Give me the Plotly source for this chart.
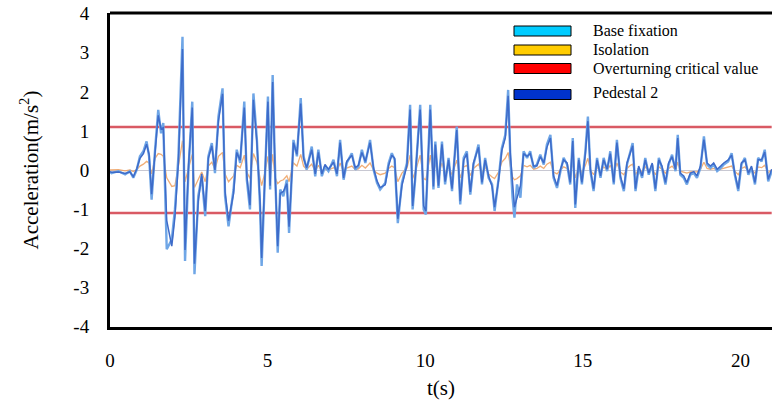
import plotly.graph_objects as go

# ---------------- data ----------------
time_s = [0.00, 0.05, 0.27, 0.48, 0.63, 0.74, 0.85, 0.95, 1.06, 1.16, 1.24, 1.32, 1.43, 1.53, 1.62, 1.69,
          1.80, 1.96, 2.06, 2.17, 2.30, 2.38, 2.49, 2.61, 2.68, 2.80, 2.91, 3.02, 3.12, 3.23, 3.33, 3.44,
          3.57, 3.65, 3.76, 3.92, 4.02, 4.13, 4.26, 4.34, 4.44, 4.55, 4.66, 4.76, 4.81, 4.92, 5.01, 5.08,
          5.16, 5.24, 5.32, 5.40, 5.50, 5.61, 5.68, 5.82, 5.93, 6.05, 6.14, 6.24, 6.40, 6.51, 6.61, 6.72,
          6.82, 6.93, 7.09, 7.20, 7.30, 7.41, 7.51, 7.67, 7.78, 7.88, 7.99, 8.10, 8.25, 8.36, 8.47, 8.57,
          8.73, 8.84, 8.94, 9.03, 9.13, 9.26, 9.42, 9.52, 9.60, 9.68, 9.84, 9.95, 10.02, 10.16, 10.26,
          10.32, 10.42, 10.53, 10.63, 10.74, 10.85, 11.00, 11.11, 11.22, 11.32, 11.43, 11.53, 11.69, 11.80,
          11.90, 12.01, 12.12, 12.20, 12.33, 12.43, 12.54, 12.63, 12.70, 12.77, 12.83, 12.91, 13.02, 13.12,
          13.23, 13.33, 13.44, 13.54, 13.65, 13.76, 13.86, 13.97, 14.07, 14.18, 14.29, 14.39, 14.50, 14.60,
          14.68, 14.76, 14.87, 14.97, 15.08, 15.16, 15.24, 15.34, 15.45, 15.56, 15.66, 15.77, 15.87, 15.98,
          16.08, 16.19, 16.30, 16.40, 16.51, 16.58, 16.67, 16.77, 16.88, 16.98, 17.09, 17.20, 17.30, 17.41,
          17.51, 17.62, 17.72, 17.83, 17.94, 18.01, 18.09, 18.20, 18.30, 18.41, 18.52, 18.62, 18.73, 18.84,
          18.94, 19.05, 19.15, 19.26, 19.37, 19.47, 19.61, 19.72, 19.82, 19.93, 20.03, 20.14, 20.25, 20.35,
          20.46, 20.56, 20.67, 20.77, 20.88, 20.99]

base_fixation = [-0.05, -0.08, -0.03, -0.11, -0.03, -0.20, 0.01, 0.35, 0.48, 0.73, 0.35, -0.76, 0.52, 1.54, 0.94, 1.20,
                 -2.03, -1.78, -1.01, 0.35, 3.41, -2.33, 0.01, 1.75, -2.67, -0.67, -0.16, -1.18, 0.35, 0.69, -0.08, 1.37,
                 2.09, -0.67, -1.44, -0.50, 0.52, 0.18, 1.75, -0.25, -1.01, 1.96, 0.77, -0.93, -2.46, -0.08, 1.88, -0.50,
                 2.43, -0.08, -2.12, -0.50, -0.67, -0.25, -1.61, 0.77, 0.35, 1.84, 0.35, 0.01, 0.60, -0.16, 0.52, -0.16,
                 0.09, -0.03, 0.26, -0.16, 0.77, -0.25, 0.18, 0.43, 0.01, 0.09, 0.52, 0.18, 0.77, 0.01, -0.33, -0.50,
                 -0.33, 0.18, 0.43, 0.26, -1.36, -0.33, 0.18, 1.67, -1.01, -0.25, 1.67, -1.01, -1.14, 1.67, -0.50,
                 0.73, -0.46, 0.73, -0.37, 0.31, -0.54, 1.11, -0.88, 0.31, 0.48, -0.63, 0.14, 0.65, -0.37,
                 0.31, -0.20, -0.37, -1.05, -0.20, 0.56, 0.90, 2.05, 0.31, -0.71, -1.22, -0.37, -0.71, 0.48,
                 0.31, 0.48, 0.05, 0.14, 0.39, 0.14, 0.65, 0.90, -0.20, -0.46, -0.03, 0.31, 0.14, -0.37,
                 0.82, -0.97, 0.31, -0.37, 0.48, 1.37, -0.03, -0.54, 0.31, -0.20, 0.31, -0.03, 0.48, -0.37,
                 0.77, -0.20, -0.54, 0.14, 0.48, 0.69, -0.54, 0.05, -0.20, 0.31, -0.12, 0.14, -0.54, 0.31,
                 0.05, -0.37, 0.14, 0.39, -0.03, 0.90, -0.12, -0.20, -0.37, -0.12, -0.08, -0.20, 0.05, 0.86,
                 0.14, 0.05, 0.14, -0.03, 0.05, 0.14, 0.22, 0.43, -0.12, -0.54, 0.14, 0.31, -0.12, 0.05,
                 -0.37, 0.31, 0.22, 0.52, -0.29, -0.03]

pedestal_2 = [-0.04, -0.06, -0.05, -0.09, -0.05, -0.17, 0.03, 0.30, 0.42, 0.66, 0.40, -0.62, 0.45, 1.40, 1.05, 1.08,
              -1.30, -1.95, -1.20, 0.20, 3.10, -2.05, 0.10, 1.60, -2.40, -0.80, -0.10, -1.05, 0.30, 0.62, 0.00, 1.25,
              1.95, -0.55, -1.30, -0.60, 0.45, 0.25, 1.60, -0.15, -0.90, 1.80, 0.70, -0.80, -2.25, 0.00, 1.75, -0.40,
              2.25, -0.15, -1.95, -0.60, -0.55, -0.35, -1.45, 0.70, 0.40, 1.70, 0.30, 0.06, 0.52, -0.10, 0.45, -0.10,
              0.14, 0.02, 0.20, -0.10, 0.70, -0.20, 0.22, 0.38, 0.06, 0.12, 0.45, 0.22, 0.70, 0.05, -0.28, -0.45,
              -0.38, 0.12, 0.38, 0.30, -1.25, -0.40, 0.12, 1.55, -0.92, -0.20, 1.55, -0.92, -1.05, 1.55, -0.42,
              0.65, -0.40, 0.66, -0.30, 0.26, -0.48, 1.02, -0.80, 0.26, 0.42, -0.56, 0.18, 0.58, -0.32,
              0.26, -0.15, -0.42, -0.95, -0.25, 0.50, 0.82, 1.90, 0.40, -0.45, -0.95, -0.72, -0.40, 0.42,
              0.35, 0.42, 0.10, 0.10, 0.34, 0.18, 0.58, 0.82, -0.15, -0.40, 0.02, 0.26, 0.18, -0.32,
              0.74, -0.88, 0.26, -0.32, 0.42, 1.25, 0.02, -0.48, 0.26, -0.15, 0.26, 0.02, 0.42, -0.32,
              0.70, -0.15, -0.48, 0.18, 0.42, 0.62, -0.48, 0.10, -0.15, 0.26, -0.08, 0.18, -0.48, 0.26,
              0.10, -0.32, 0.18, 0.34, 0.02, 0.82, -0.08, -0.15, -0.32, -0.08, -0.04, -0.15, 0.10, 0.78,
              0.18, 0.10, 0.18, 0.02, 0.10, 0.18, 0.26, 0.38, -0.08, -0.48, 0.18, 0.26, -0.08, 0.10,
              -0.32, 0.26, 0.26, 0.46, -0.24, 0.02]

isolation = [0.00, 0.00, 0.01, -0.02, 0.00, -0.04, 0.01, 0.10, 0.15, 0.22, 0.18, -0.10, 0.30, 0.42, 0.40, 0.35,
             -0.20, -0.42, -0.40, 0.10, 0.75, -0.30, 0.05, 0.40, -0.45, -0.25, -0.05, -0.30, 0.10, 0.20, 0.02, 0.35,
             0.45, -0.10, -0.30, -0.15, 0.12, 0.06, 0.38, -0.05, -0.22, 0.42, 0.20, -0.20, -0.40, -0.05, 0.35, -0.15,
             0.40, -0.20, -0.35, -0.28, -0.25, -0.15, -0.30, 0.18, 0.10, 0.40, 0.10, 0.02, 0.15, -0.03, 0.12, -0.03,
             0.03, 0.00, 0.06, -0.03, 0.18, -0.05, 0.05, 0.10, 0.01, 0.03, 0.12, 0.05, 0.18, 0.00, -0.08, -0.12,
             -0.08, 0.04, 0.10, 0.06, -0.30, -0.08, 0.05, 0.38, -0.22, -0.05, 0.38, -0.22, -0.25, 0.38, -0.12,
             0.18, -0.10, 0.18, -0.08, 0.08, -0.12, 0.25, -0.20, 0.08, 0.12, -0.14, 0.04, 0.15, -0.08,
             0.08, -0.10, -0.18, -0.22, -0.05, 0.20, 0.30, 0.45, 0.10, -0.18, -0.25, -0.22, -0.15, 0.12,
             0.08, 0.12, 0.02, 0.04, 0.10, 0.04, 0.15, 0.20, -0.05, -0.10, 0.00, 0.08, 0.04, -0.08,
             0.18, -0.20, 0.08, -0.08, 0.12, 0.30, 0.00, -0.12, 0.08, -0.05, 0.08, 0.00, 0.12, -0.08,
             0.18, -0.05, -0.12, 0.04, 0.12, 0.15, -0.12, 0.02, -0.05, 0.08, -0.03, 0.04, -0.12, 0.08,
             0.02, -0.08, 0.04, 0.10, 0.00, 0.20, -0.03, -0.05, -0.08, -0.05, -0.05, -0.05, 0.02, 0.20,
             0.04, 0.02, 0.04, 0.00, 0.02, 0.04, 0.06, 0.10, -0.03, -0.12, 0.04, 0.08, -0.03, 0.02,
             -0.08, 0.08, 0.06, 0.12, -0.07, 0.00]

critical_value = 1.1

y_tick_vals = [-4, -3, -2, -1, 0, 1, 2, 3, 4]
y_tick_text = ["-4", "-3", "-2", "-1", "0", "1", "2", "3", "4"]
x_tick_vals = [0, 5, 10, 15, 20]

legend_names = ["Base fixation", "Isolation", "Overturning critical value", "Pedestal 2"]
legend_colors = ["#00CCFF", "#FFCC00", "#FF0000", "#0033CC"]

# ---------------- figure ----------------
FONT = "Liberation Serif"
fig = go.Figure()

n = len(time_s)
fig.add_trace(go.Scatter(x=time_s, y=[critical_value] * n, mode="lines",
                         line=dict(color="#D95A64", width=2.6), showlegend=False, hoverinfo="skip"))
fig.add_trace(go.Scatter(x=time_s, y=[-critical_value] * n, mode="lines",
                         line=dict(color="#D95A64", width=2.6), showlegend=False, hoverinfo="skip"))
fig.add_trace(go.Scatter(x=time_s, y=isolation, mode="lines", name="Isolation",
                         line=dict(color="#EEA060", width=1.3), opacity=0.85, showlegend=False))
fig.add_trace(go.Scatter(x=time_s, y=base_fixation, mode="lines", name="Base fixation",
                         line=dict(color="#6FA6E6", width=2.4), showlegend=False))
fig.add_trace(go.Scatter(x=time_s, y=pedestal_2, mode="lines", name="Pedestal 2",
                         line=dict(color="#3E6BC9", width=1.5), showlegend=False))

# manual legend (swatches + text), placed in pixel-like paper coordinates
L, T, W, H = 110, 13, 772 - 110, 327 - 13
def px(x):
    return (x - L) / W
def py(y):
    return 1 - (y - T) / H

row_centers = [31, 50, 68.5, 94.5]
text_centers = [31, 50, 69, 93]
shapes = []
annotations = []
for name, col, yc, yt in zip(legend_names, legend_colors, row_centers, text_centers):
    shapes.append(dict(type="rect", xref="paper", yref="paper",
                       x0=px(514), x1=px(571), y0=py(yc + 5), y1=py(yc - 5),
                       fillcolor=col, line=dict(color="#000000", width=1)))
    annotations.append(dict(xref="paper", yref="paper", x=px(591), y=py(yt),
                            text=name, showarrow=False, xanchor="left", yanchor="middle",
                            font=dict(family=FONT, size=16, color="#000000")))

# top border of the frame
shapes.append(dict(type="line", xref="paper", yref="paper", x0=0, x1=1, y0=1, y1=1,
                   line=dict(color="#000000", width=3)))

fig.update_layout(
    width=772, height=407,
    margin=dict(l=L, r=0, t=T, b=407 - 327),
    paper_bgcolor="white", plot_bgcolor="white",
    font=dict(family=FONT, size=19, color="#000000"),
    shapes=shapes, annotations=annotations,
    xaxis=dict(range=[0, 21], tickvals=x_tick_vals, showgrid=False, zeroline=False,
               showline=True, linecolor="#000000", linewidth=3,
               ticks="outside", ticklen=14, tickcolor="rgba(0,0,0,0)",
               tickfont=dict(family=FONT, size=19),
               title=dict(text="t(s)", standoff=11, font=dict(family=FONT, size=21))),
    yaxis=dict(range=[-4.02, 4.02], tickvals=y_tick_vals, ticktext=y_tick_text,
               showgrid=False, zeroline=True, zerolinecolor="#C8C8D2", zerolinewidth=1,
               showline=True, linecolor="#000000", linewidth=3,
               ticks="outside", ticklen=14, tickcolor="rgba(0,0,0,0)",
               tickfont=dict(family=FONT, size=19),
               title=dict(text="Acceleration(m/s<sup>2</sup>)", standoff=30,
                          font=dict(family=FONT, size=21))),
)

fig.write_html("out.html")
